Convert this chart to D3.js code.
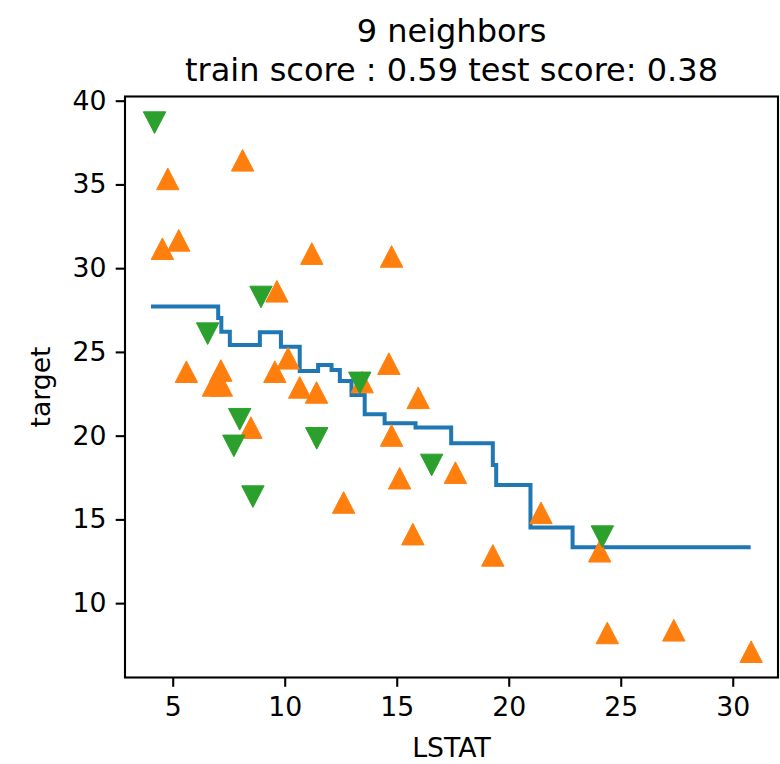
<!DOCTYPE html>
<html lang="en">
<head>
    <meta charset="utf-8">
    <title>KNN regression - 9 neighbors</title>
    <style>
        body { margin: 0; background: #fff; }
        text { font-family: "DejaVu Sans", sans-serif; fill: #000; }
        .axis path, .axis line { stroke: #000; stroke-width: 2.1px; }
        .axis text { font-size: 26.7px; }
    </style>
</head>
<body>

<script src="https://d3js.org/d3.v7.min.js"></script>

<script>
  // training points (orange, up triangles)
  const trainX = [8.12, 4.78, 4.54, 5.27, 11.21, 9.65, 5.61, 7.15, 6.82, 7.17,
                  9.56, 10.15, 10.67, 11.42, 8.49, 12.63, 14.77, 14.65, 13.46, 15.96,
                  14.77, 15.13, 17.62, 15.72, 19.29, 21.44, 24.06, 24.40, 27.37, 30.82];
  const trainY = [36.44, 35.33, 31.16, 31.66, 30.87, 28.62, 23.82, 23.89, 23.00, 23.00,
                  23.82, 24.62, 22.88, 22.58, 20.48, 16.01, 30.70, 24.30, 23.20, 22.26,
                  20.01, 17.46, 17.79, 14.12, 12.85, 15.39, 13.10, 8.22, 8.38, 7.10];

  // test points (green, down triangles)
  const testX = [4.19, 8.94, 6.56, 7.99, 7.73, 11.43, 8.58, 13.35, 16.56, 24.18];
  const testY = [38.69, 28.28, 26.09, 20.98, 19.39, 19.84, 16.36, 23.15, 18.25, 13.97];

  // knn prediction, step function (start of each step)
  const stepX = [4.03, 7.03, 7.17, 7.55, 8.89, 9.83, 10.67, 11.49, 12.09, 12.46,
                 12.98, 13.57, 14.46, 15.84, 17.43, 19.29, 19.44, 20.97, 22.85, 30.80];
  const stepY = [27.71, 27.03, 26.21, 25.41, 26.17, 25.31, 23.86, 24.22, 23.92, 23.27,
                 22.43, 21.28, 20.74, 20.48, 19.55, 18.25, 17.06, 14.51, 13.34, 13.34];

  const xTicks = [5, 10, 15, 20, 25, 30];
  const yTicks = [10, 15, 20, 25, 30, 35, 40];

  const titleLines = ["9 neighbors", "train score : 0.59 test score: 0.38"];

  const width = 780,
    height = 764,
    plot = {left: 125, right: 778, top: 96.5, bottom: 677.5};

  const x = d3.scaleLinear().domain([2.87, 32.02]).range([plot.left, plot.right]);
  const y = d3.scaleLinear().domain([5.56, 40.25]).range([plot.bottom, plot.top]);

  const svg = d3.select("body").append("svg")
    .attr("width", width)
    .attr("height", height);

  // clip to the axes box
  svg.append("clipPath").attr("id", "clip")
    .append("rect")
    .attr("x", plot.left).attr("y", plot.top)
    .attr("width", plot.right - plot.left)
    .attr("height", plot.bottom - plot.top);

  const body = svg.append("g").attr("clip-path", "url(#clip)");

  // prediction line
  const line = d3.line()
    .x(function(d) { return x(d[0]); })
    .y(function(d) { return y(d[1]); })
    .curve(d3.curveStepAfter);

  body.append("path")
    .datum(d3.zip(stepX, stepY))
    .attr("fill", "none")
    .attr("stroke", "#1f77b4")
    .attr("stroke-width", 4)
    .attr("d", line);

  // triangle marker, centred on its bounding box
  function triangle(up) {
    const hw = 11.2, hh = 10.8, s = up ? 1 : -1;
    return `M0,${-s * hh} L${-hw},${s * hh} L${hw},${s * hh} Z`;
  }

  body.selectAll("path.train")
    .data(d3.zip(trainX, trainY))
    .enter().append("path")
    .attr("class", "train")
    .attr("d", triangle(true))
    .attr("fill", "#ff7f0e")
    .attr("stroke", "#ff7f0e")
    .attr("stroke-width", 1)
    .attr("transform", function(d) { return "translate(" + x(d[0]) + "," + y(d[1]) + ")"; });

  body.selectAll("path.test")
    .data(d3.zip(testX, testY))
    .enter().append("path")
    .attr("class", "test")
    .attr("d", triangle(false))
    .attr("fill", "#2ca02c")
    .attr("stroke", "#2ca02c")
    .attr("stroke-width", 1)
    .attr("transform", function(d) { return "translate(" + x(d[0]) + "," + y(d[1]) + ")"; });

  // axes
  svg.append("g")
    .attr("class", "axis")
    .attr("transform", "translate(0," + plot.bottom + ")")
    .call(d3.axisBottom(x).tickValues(xTicks).tickSize(9.3).tickPadding(10.5).tickSizeOuter(0))
    .call(function(g) { g.select(".domain").remove(); });

  svg.append("g")
    .attr("class", "axis")
    .attr("transform", "translate(" + plot.left + ",0)")
    .call(d3.axisLeft(y).tickValues(yTicks).tickSize(9.3).tickPadding(9.3).tickSizeOuter(0))
    .call(function(g) { g.select(".domain").remove(); });

  // spines
  svg.append("rect")
    .attr("x", plot.left).attr("y", plot.top)
    .attr("width", plot.right - plot.left)
    .attr("height", plot.bottom - plot.top)
    .attr("fill", "none")
    .attr("stroke", "#000")
    .attr("stroke-width", 2.1);

  // labels
  svg.append("text")
    .attr("x", (plot.left + plot.right) / 2)
    .attr("y", 757)
    .attr("text-anchor", "middle")
    .attr("font-size", "26.7px")
    .text("LSTAT");

  svg.append("text")
    .attr("transform", "translate(50," + (plot.top + plot.bottom) / 2 + ") rotate(-90)")
    .attr("text-anchor", "middle")
    .attr("font-size", "26.7px")
    .text("target");

  svg.selectAll("text.title")
    .data(titleLines)
    .enter().append("text")
    .attr("class", "title")
    .attr("x", (plot.left + plot.right) / 2)
    .attr("y", function(d, i) { return 42 + i * 38.5; })
    .attr("text-anchor", "middle")
    .attr("font-size", "32px")
    .text(function(d) { return d; });
</script>

</body>
</html>
